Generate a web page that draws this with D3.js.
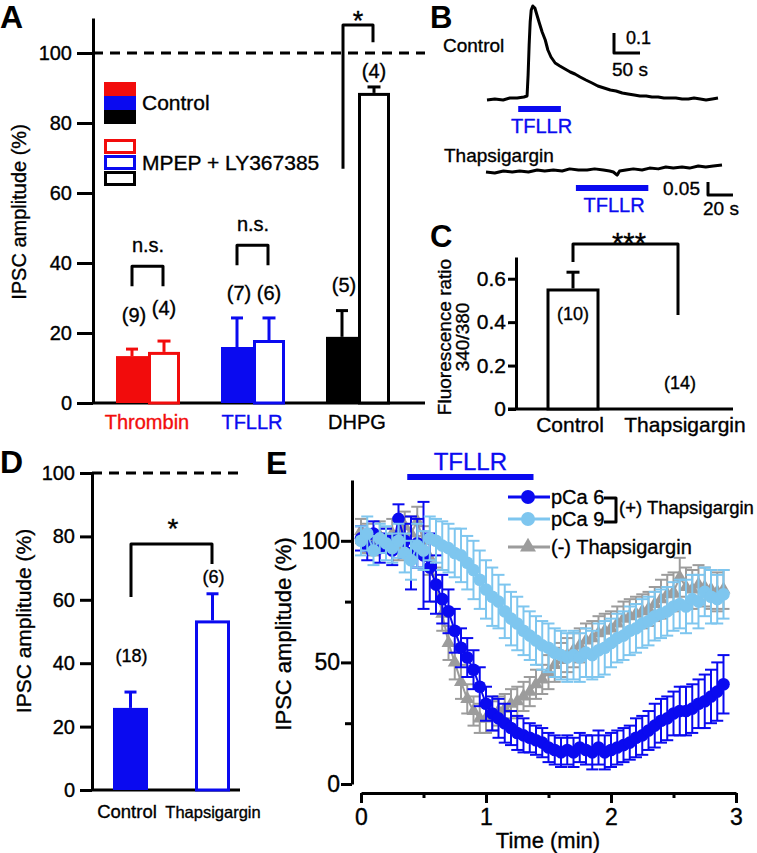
<!DOCTYPE html>
<html><head><meta charset="utf-8">
<script src="https://cdn.jsdelivr.net/npm/d3@7"></script>
<style>body{margin:0;background:#fff}svg{display:block}</style>
</head><body>
<svg id="c" width="757" height="853"></svg>
<script>
// ---------------- DATA ----------------
// Panel A
const aGroups = ["Thrombin", "TFLLR", "DHPG"];
const aControl = [13.4, 16.0, 18.9];
const aControlErr = [2.0, 8.3, 7.5];
const aControlN = ["(9)", "(7)", "(5)"];
const aMpep = [14.6, 18.0, 88.6];
const aMpepErr = [3.1, 6.3, 1.7];
const aMpepN = ["(4)", "(6)", "(4)"];
const aSig = ["n.s.", "n.s.", "*"];
const aYTicks = [0, 20, 40, 60, 80, 100];
const aLegend = ["Control", "MPEP + LY367385"];

// Panel B traces (time in s, ratio change)
const bCtrlT = [0,15,31,44,58,71,77,79,81,83,85,88,92,96,100,106,112,117,123,131,140,150,160,169,179,190,202,213,225,237,248,260,271,283,294,306,317,329,340,352,363,375,387,398,410,421,433,444];
const bCtrlV = [-0.005,0,-0.005,0.005,0.005,0.01,0.015,0.12,0.27,0.385,0.445,0.465,0.455,0.42,0.385,0.335,0.295,0.245,0.21,0.18,0.165,0.15,0.135,0.125,0.11,0.095,0.08,0.065,0.055,0.045,0.04,0.03,0.025,0.02,0.015,0.015,0.01,0.01,0.005,0.005,0.005,0,0,0.005,0,-0.005,0,0.005];
const bCtrlDrug = [60, 142];
const bThapT = [0,7,14,21,27,34,41,47,54,61,67,74,81,87,94,99,102,105,107,112,118,125,131,138,144,150,157,163,170,176,182,189];
const bThapV = [0,-0.004,0.004,0,0.004,0,0.008,0.004,0.008,0.004,0.012,0.008,0.008,0.012,0.008,0.004,0,-0.012,0.004,0.008,0.012,0.008,0.015,0.012,0.019,0.015,0.019,0.015,0.023,0.019,0.023,0.027];
const bThapDrug = [72, 130];

// Panel C
const cCats = ["Control", "Thapsigargin"];
const cVals = [0.555, 0.004];
const cErr = [0.075, 0];
const cN = ["(10)", "(14)"];
const cYTicks = [0, 0.2, 0.4, 0.6];

// Panel D
const dCats = ["Control", "Thapsigargin"];
const dVals = [25.9, 53.5];
const dErr = [5.0, 8.4];
const dN = ["(18)", "(6)"];
const dYTicks = [0, 20, 40, 60, 80, 100];

// Panel E
const eTime = [0,0.05,0.1,0.15,0.2,0.25,0.3,0.35,0.4,0.45,0.5,0.55,0.6,0.65,0.7,0.75,0.8,0.85,0.9,0.95,1,1.05,1.1,1.15,1.2,1.25,1.3,1.35,1.4,1.45,1.5,1.55,1.6,1.65,1.7,1.75,1.8,1.85,1.9,1.95,2,2.05,2.1,2.15,2.2,2.25,2.3,2.35,2.4,2.45,2.5,2.55,2.6,2.65,2.7,2.75,2.8,2.85,2.9];
const ePca6 = [101,98,103,97,100,96,109,100,95,99, 94,89,82,76,71,63,56,52,47,40, 33,29,27,25,23,21,20,19,18,17, 15,14,13,14,13,15,14,13,15,13, 14,15,16,17,19,20,22,24,26,27, 29,30,30,31,33,34,36,38,41];
const ePca6Err = [5,6,5,6,5,6,6,7,15,10, 22,14,12,10,9,9,8,8,8,8, 7,7,8,8,7,7,7,6,6,6, 6,6,6,6,6,6,6,7,7,7, 7,7,7,7,8,8,8,9,9,9, 9,10,10,10,10,11,11,12,12];
const ePca9 = [100,103,96,101,99,97,100,95,92,98, 96,101,100,98,97,95,94,91,88,84, 80,77,75,71,68,66,63,61,59,57, 56,54,53,52,53,52,54,53,55,56, 58,60,61,63,64,66,67,69,70,71, 73,74,73,76,75,79,77,76,78];
const ePca9Err = [6,7,6,6,7,6,7,8,8,9, 8,9,9,10,10,10,11,11,12,12, 12,12,11,11,11,11,10,10,10,10, 10,10,10,10,10,10,10,10,11,11, 10,10,10,10,10,10,10,10,10,10, 10,10,11,10,11,10,11,10,10];
const eNoThap = [104,101,99,102,100,103,98,106,103,108, 100,93,82,70,58,50,42,35,30,27, 27,28,30,31,33,34,36,38,41,43, 46,49,51,53,55,57,59,60,62,63, 64,66,68,69,70,71,72,74,76,78, 79,85,81,80,82,81,80,79,80];
const eNoThapErr = [5,6,5,6,5,6,6,6,7,6, 6,7,7,7,7,7,7,6,6,6, 6,6,6,6,6,6,6,6,6,6, 7,7,7,7,7,7,7,7,7,7, 7,7,7,7,7,7,7,7,8,8, 8,8,8,8,8,8,8,8,8];
const eSeriesNames = ["pCa 6", "pCa 9", "(-) Thapsigargin"];
const eDrug = [0.37, 1.38];
const eYMajor = [0, 50, 100];
const eYMinor = [25, 75];
const eXMajor = [0, 1, 2, 3];
const eXMinor = [0.5, 1.5, 2.5];

// ---------------- STYLE ----------------
const F = '"Liberation Sans", Arial, Helvetica, sans-serif';
const RED = "#f20c0c", BLUE = "#0a0af0", LBLUE = "#7ec6ef", GRAY = "#9c9c9c";
const aColors = [RED, BLUE, "#000"];

const svg = d3.select("#c");
function T(g, x, y, s, o = {}) {
  const c = o.fill || "#000";
  const t = g.append("text").attr("x", x).attr("y", y).attr("font-family", F)
    .attr("font-size", o.fs || 20).attr("font-weight", o.fw || "normal")
    .attr("fill", c).attr("stroke", c).attr("stroke-width", o.fw ? 0 : 0.35)
    .attr("text-anchor", o.anchor || "start").text(s);
  if (o.rot) t.attr("transform", `rotate(-90,${x},${y})`);
  return t;
}
function P(g, pts, c, w, dash) {
  const p = g.append("path").attr("d", d3.line()(pts)).attr("fill", "none")
    .attr("stroke", c).attr("stroke-width", w).attr("stroke-linejoin", "round");
  if (dash) p.attr("stroke-dasharray", dash);
  return p;
}
function styleAxis(g, fs) {
  g.attr("font-family", F).attr("font-size", fs);
  g.select(".domain").attr("stroke", "#000").attr("stroke-width", 3);
  g.selectAll(".tick line").attr("stroke", "#000").attr("stroke-width", 3);
  g.selectAll(".tick text").attr("fill", "#000").attr("stroke", "#000").attr("stroke-width", 0.35);
}
function errUp(g, x, y0, y1, c, cap, w) {
  P(g, [[x, y0], [x, y1]], c, w);
  P(g, [[x - cap / 2, y1], [x + cap / 2, y1]], c, w);
}

// ---------------- PANEL A ----------------
{
  const g = svg.append("g");
  const y = d3.scaleLinear().domain([0, 110]).range([403, 18]);
  const x = d3.scalePoint().domain(aGroups).range([148, 358]);
  const BW = 32;
  T(g, 0, 28, "A", {fs: 32, fw: "bold"});
  P(g, [[93, y(100)], [425, y(100)]], "#000", 3, "10,7");
  const ax = g.append("g").attr("transform", "translate(93,0)")
    .call(d3.axisLeft(y).tickValues(aYTicks).tickSize(16).tickSizeOuter(0).tickPadding(5));
  styleAxis(ax, 20);
  P(g, [[93, y(0)], [425, y(0)]], "#000", 3);
  T(g, 26, 212, "IPSC amplitude (%)", {fs: 20, anchor: "middle", rot: true});

  const nGapC = [27, 18, 19], nGapM = [26, 18, 9];
  aGroups.forEach((k, i) => {
    const c = aColors[i], cx = x(k);
    g.append("rect").attr("x", cx - BW).attr("y", y(aControl[i])).attr("width", BW)
      .attr("height", y(0) - y(aControl[i])).attr("fill", c);
    errUp(g, cx - BW / 2, y(aControl[i]), y(aControl[i] + aControlErr[i]), c, 12, 3);
    g.append("rect").attr("x", cx + 1.5).attr("y", y(aMpep[i]) + 1.5).attr("width", BW - 3)
      .attr("height", y(0) - y(aMpep[i]) - 1.5).attr("fill", "#fff").attr("stroke", c).attr("stroke-width", 3);
    errUp(g, cx + BW / 2, y(aMpep[i]), y(aMpep[i] + aMpepErr[i]), c, 13, 3);
    T(g, cx - BW / 2 + 2, y(aControl[i] + aControlErr[i]) - nGapC[i], aControlN[i], {anchor: "middle"});
    T(g, cx + BW / 2, y(aMpep[i] + aMpepErr[i]) - nGapM[i], aMpepN[i], {anchor: "middle"});
    T(g, cx - 1, 429, k, {fill: c, anchor: "middle"});
  });
  // significance brackets
  const brTop = [39.1, 45.1];
  [0, 1].forEach(i => {
    const cx = x(aGroups[i]);
    const t = y(brTop[i]);
    P(g, [[cx - 16, t + 20], [cx - 16, t], [cx + 15, t], [cx + 15, t + 20]], "#000", 3);
    T(g, cx, t - 14, aSig[i], {anchor: "middle"});
  });
  {
    const cx = x(aGroups[2]);
    P(g, [[cx - 15, y(66.9)], [cx - 15, y(108)], [cx + 15, y(108)], [cx + 15, y(103.1)]], "#000", 3);
    T(g, cx, 30, aSig[2], {fs: 27, anchor: "middle"});
  }
  // legend
  const lx = 104, lw = 32;
  aColors.forEach((c, i) => {
    g.append("rect").attr("x", lx).attr("y", 82 + i * 14).attr("width", lw).attr("height", 14).attr("fill", c);
    g.append("rect").attr("x", lx + 1.5).attr("y", 140.5 + i * 16).attr("width", lw - 3).attr("height", 12)
      .attr("fill", "#fff").attr("stroke", c).attr("stroke-width", 3);
  });
  T(g, 142, 110, aLegend[0], {fs: 21});
  T(g, 142, 170, aLegend[1], {fs: 21});
}

// ---------------- PANEL B ----------------
{
  const g = svg.append("g");
  T(g, 430, 28, "B", {fs: 31, fw: "bold"});
  const x1 = d3.scaleLinear().domain([0, 444]).range([487, 718]);
  const y1 = d3.scaleLinear().domain([0, 0.1]).range([99, 79]);
  P(g, bCtrlT.map((t, i) => [x1(t), y1(bCtrlV[i])]), "#000", 3);
  P(g, [[x1(bCtrlDrug[0]), 109], [x1(bCtrlDrug[1]), 109]], BLUE, 6);
  T(g, (x1(bCtrlDrug[0]) + x1(bCtrlDrug[1])) / 2 + 2, 133, "TFLLR", {fs: 20, fill: BLUE, anchor: "middle"});
  T(g, 443, 52, "Control", {fs: 19});
  // scale bar 0.1 / 50 s
  const sx = 614, sy = 53;
  P(g, [[sx, sy - (y1(0) - y1(0.1))], [sx, sy], [sx + (x1(50) - x1(0)), sy]], "#000", 3);
  T(g, 626, 44, "0.1", {fs: 18});
  T(g, 612, 76, "50 s", {fs: 19});

  const x2 = d3.scaleLinear().domain([0, 189]).range([486, 722]);
  const y2 = d3.scaleLinear().domain([0, 0.05]).range([172, 159]);
  P(g, bThapT.map((t, i) => [x2(t), y2(bThapV[i])]), "#000", 3);
  P(g, [[x2(bThapDrug[0]), 188], [x2(bThapDrug[1]), 188]], BLUE, 6);
  T(g, (x2(bThapDrug[0]) + x2(bThapDrug[1])) / 2 + 2, 212, "TFLLR", {fs: 20, fill: BLUE, anchor: "middle"});
  T(g, 444, 162, "Thapsigargin", {fs: 19});
  const tx = 708, ty = 195;
  P(g, [[tx, ty - (y2(0) - y2(0.05))], [tx, ty], [tx + (x2(20) - x2(0)), ty]], "#000", 3);
  T(g, 700, 195, "0.05", {fs: 19, anchor: "end"});
  T(g, 703, 215, "20 s", {fs: 19});
}

// ---------------- PANEL C ----------------
{
  const g = svg.append("g");
  T(g, 430, 247, "C", {fs: 31, fw: "bold"});
  const y = d3.scaleLinear().domain([0, 0.7]).range([409, 257]);
  const x = d3.scalePoint().domain(cCats).range([573, 680]);
  const BW = 53;
  const ax = g.append("g").attr("transform", "translate(516,0)")
    .call(d3.axisLeft(y).tickValues(cYTicks).tickFormat(d => d === 0 ? "0" : d3.format(".1f")(d)).tickSize(8).tickSizeOuter(0).tickPadding(2));
  styleAxis(ax, 21);
  P(g, [[508, y(0)], [733, y(0)]], "#000", 3);
  cCats.forEach((k, i) => {
    const cx = x(k);
    g.append("rect").attr("x", cx - BW / 2 + 1.5).attr("y", y(cVals[i]) + 1.5).attr("width", BW - 3)
      .attr("height", Math.max(0, y(0) - y(cVals[i]) - 1.5)).attr("fill", "#fff").attr("stroke", "#000").attr("stroke-width", 3);
    if (cErr[i] > 0) errUp(g, cx, y(cVals[i]), y(cVals[i] + cErr[i]), "#000", 13, 3);
    T(g, k === "Control" ? 570 : 685, 432, k, {fs: 21, anchor: "middle"});
  });
  T(g, x(cCats[0]), 320, cN[0], {fs: 18, anchor: "middle"});
  T(g, x(cCats[1]), 389, cN[1], {fs: 18, anchor: "middle"});
  P(g, [[x(cCats[0]), 262], [x(cCats[0]), 244], [x(cCats[1]) - 2, 244], [x(cCats[1]) - 2, 315]], "#000", 3);
  T(g, 629, 253, "***", {fs: 29, anchor: "middle"});
  T(g, 451, 337, "Fluorescence ratio", {fs: 19, anchor: "middle", rot: true});
  T(g, 469, 337, "340/380", {fs: 19, anchor: "middle", rot: true});
}

// ---------------- PANEL D ----------------
{
  const g = svg.append("g");
  T(g, 0, 473, "D", {fs: 32, fw: "bold"});
  const y = d3.scaleLinear().domain([0, 100]).range([790, 473]);
  const x = d3.scalePoint().domain(dCats).range([130.5, 212.5]);
  const BW = 35;
  P(g, [[92, y(100)], [240, y(100)]], "#000", 3, "10,7");
  const ax = g.append("g").attr("transform", "translate(92,0)")
    .call(d3.axisLeft(y).tickValues(dYTicks).tickSize(12).tickSizeOuter(0).tickPadding(5));
  styleAxis(ax, 20);
  P(g, [[92, y(0)], [240, y(0)]], "#000", 3);
  T(g, 31, 621, "IPSC amplitude (%)", {fs: 21, anchor: "middle", rot: true});
  // control filled
  g.append("rect").attr("x", x(dCats[0]) - BW / 2).attr("y", y(dVals[0])).attr("width", BW)
    .attr("height", y(0) - y(dVals[0])).attr("fill", BLUE);
  errUp(g, x(dCats[0]), y(dVals[0]), y(dVals[0] + dErr[0]), BLUE, 12, 3);
  g.append("rect").attr("x", x(dCats[1]) - BW / 2 + 1.5).attr("y", y(dVals[1]) + 1.5).attr("width", BW - 3)
    .attr("height", y(0) - y(dVals[1]) - 1.5).attr("fill", "#fff").attr("stroke", BLUE).attr("stroke-width", 3);
  errUp(g, x(dCats[1]), y(dVals[1]), y(dVals[1] + dErr[1]), BLUE, 12, 3);
  T(g, x(dCats[0]) + 1, 662, dN[0], {fs: 18, anchor: "middle"});
  T(g, x(dCats[1]) + 1, 583, dN[1], {fs: 18, anchor: "middle"});
  P(g, [[131, 597], [131, 544], [212, 544], [212, 564]], "#000", 3);
  T(g, 173, 538, "*", {fs: 28, anchor: "middle"});
  T(g, 127, 818, dCats[0], {fs: 18.5, anchor: "middle"});
  T(g, 213, 818, dCats[1], {fs: 16.5, anchor: "middle"});
}

// ---------------- PANEL E ----------------
{
  const g = svg.append("g");
  T(g, 266, 474, "E", {fs: 32, fw: "bold"});
  const x = d3.scaleLinear().domain([0, 3]).range([361, 736]);
  const y = d3.scaleLinear().domain([0, 125]).range([784, 480]);
  const ay = g.append("g").attr("transform", "translate(352,0)")
    .call(d3.axisLeft(y).tickValues(eYMajor).tickSize(11).tickSizeOuter(0).tickPadding(1));
  styleAxis(ay, 23);
  const ay2 = g.append("g").attr("transform", "translate(352,0)")
    .call(d3.axisLeft(y).tickValues(eYMinor).tickSize(7).tickSizeOuter(0).tickFormat(""));
  styleAxis(ay2, 23);
  ay2.select(".domain").remove();
  const axb = g.append("g").attr("transform", "translate(0,793)")
    .call(d3.axisBottom(x).tickValues(eXMajor).tickFormat(d3.format("d")).tickSize(10).tickSizeOuter(0).tickPadding(6));
  styleAxis(axb, 23);
  const axb2 = g.append("g").attr("transform", "translate(0,793)")
    .call(d3.axisBottom(x).tickValues(eXMinor).tickSize(5).tickSizeOuter(0).tickFormat(""));
  styleAxis(axb2, 23);
  axb2.select(".domain").remove();
  T(g, 548, 848, "Time (min)", {fs: 22, anchor: "middle"});
  T(g, 291, 634, "IPSC amplitude (%)", {fs: 22, anchor: "middle", rot: true});

  // TFLLR bar
  P(g, [[x(eDrug[0]), 477], [x(eDrug[1]), 477]], BLUE, 6);
  T(g, (x(eDrug[0]) + x(eDrug[1])) / 2, 470, "TFLLR", {fs: 24, fill: BLUE, anchor: "middle"});

  const series = [
    {v: eNoThap, e: eNoThapErr, c: GRAY, tri: true},
    {v: ePca6, e: ePca6Err, c: BLUE, tri: false},
    {v: ePca9, e: ePca9Err, c: LBLUE, tri: false}
  ];
  series.forEach(s => {
    const sg = g.append("g");
    P(sg, eTime.map((t, i) => [x(t), y(s.v[i])]), s.c, 2);
    eTime.forEach((t, i) => {
      const px = x(t), lo = y(s.v[i] - s.e[i]), hi = y(s.v[i] + s.e[i]);
      P(sg, [[px, lo], [px, hi]], s.c, 2);
      P(sg, [[px - 6, lo], [px + 6, lo]], s.c, 2);
      P(sg, [[px - 6, hi], [px + 6, hi]], s.c, 2);
    });
    eTime.forEach((t, i) => {
      if (s.tri) {
        sg.append("path").attr("d", d3.symbol(d3.symbolTriangle, 85)())
          .attr("transform", `translate(${x(t)},${y(s.v[i])})`).attr("fill", s.c);
      } else {
        sg.append("circle").attr("cx", x(t)).attr("cy", y(s.v[i])).attr("r", 6.3).attr("fill", s.c);
      }
    });
  });

  // legend
  const leg = [{c: BLUE, tri: false, y: 497}, {c: LBLUE, tri: false, y: 519}, {c: GRAY, tri: true, y: 547}];
  leg.forEach((l, i) => {
    P(g, [[508, l.y], [550, l.y]], l.c, 3);
    if (l.tri) g.append("path").attr("d", d3.symbol(d3.symbolTriangle, 110)()).attr("transform", `translate(528,${l.y})`).attr("fill", l.c);
    else g.append("circle").attr("cx", 528).attr("cy", l.y).attr("r", 7).attr("fill", l.c);
    T(g, 551, l.y + 7, eSeriesNames[i], {fs: 20});
  });
  P(g, [[604, 498], [616, 498], [616, 522], [604, 522]], "#000", 3);
  T(g, 619, 514, "(+) Thapsigargin", {fs: 18.5});
}
</script>
</body></html>
